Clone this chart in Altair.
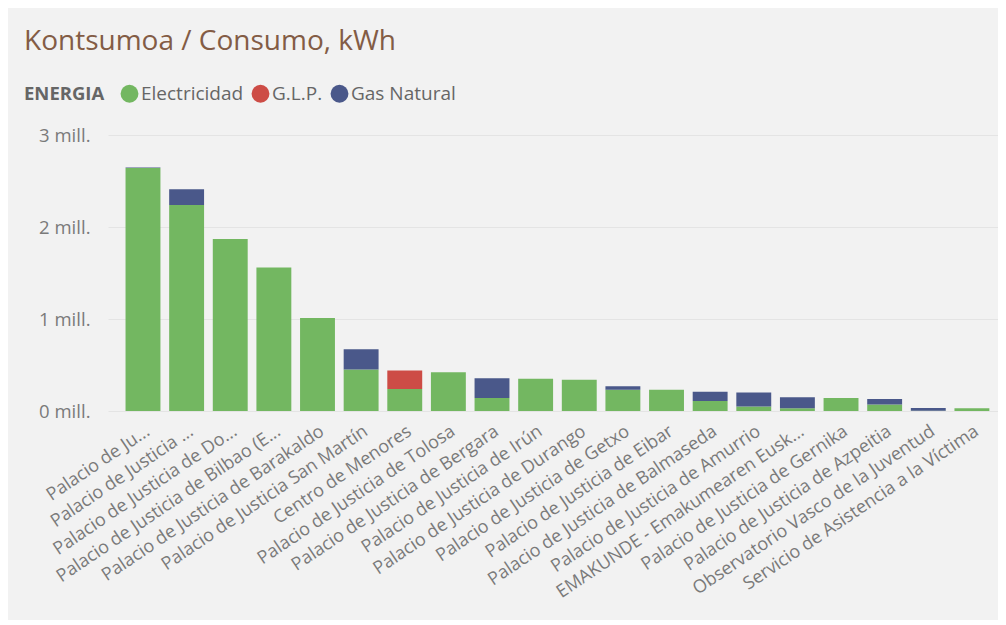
import altair as alt
import pandas as pd

categories = [
    "Palacio de Ju...",
    "Palacio de Justicia ...",
    "Palacio de Justicia de Do...",
    "Palacio de Justicia de Bilbao (E...",
    "Palacio de Justicia de Barakaldo",
    "Palacio de Justicia San Martín",
    "Centro de Menores",
    "Palacio de Justicia de Tolosa",
    "Palacio de Justicia de Bergara",
    "Palacio de Justicia de Irún",
    "Palacio de Justicia de Durango",
    "Palacio de Justicia de Getxo",
    "Palacio de Justicia de Eibar",
    "Palacio de Justicia de Balmaseda",
    "Palacio de Justicia de Amurrio",
    "EMAKUNDE - Emakumearen Eusk...",
    "Palacio de Justicia de Gernika",
    "Palacio de Justicia de Azpeitia",
    "Observatorio Vasco de la Juventud",
    "Servicio de Asistencia a la Víctima",
]

electricidad = [2640000, 2240000, 1870000, 1560000, 1010000, 450000, 240000, 420000,
                140000, 350000, 340000, 230000, 230000, 110000, 50000, 30000,
                140000, 70000, 4000, 30000]
glp = [0, 0, 0, 0, 0, 0, 200000, 0, 0, 0, 0, 0, 0, 0, 0, 0, 0, 0, 0, 0]
gas_natural = [8000, 170000, 0, 0, 0, 220000, 0, 0, 215000, 0, 0, 40000, 0, 100000,
               150000, 120000, 0, 60000, 28000, 0]

series = ["Electricidad", "G.L.P.", "Gas Natural"]
colors = ["#73B761", "#CD4C46", "#4A588A"]

rows = []
for i, c in enumerate(categories):
    for k, (name, vals) in enumerate(zip(series, [electricidad, glp, gas_natural])):
        rows.append({"Edificio": c, "ENERGIA": name, "kWh": vals[i], "ord": k})
df = pd.DataFrame(rows)

FONT = "Open Sans"

chart = (
    alt.Chart(df)
    .mark_bar()
    .encode(
        x=alt.X(
            "Edificio:N",
            sort=categories,
            title=None,
            scale=alt.Scale(paddingInner=0.2, paddingOuter=0.3, align=0.67),
            axis=alt.Axis(
                labelAngle=-34,
                labelFont=FONT,
                labelFontSize=18,
                labelColor="#7a7a7a",
                labelLimit=500,
                ticks=False,
                domain=False,
                labelPadding=11,
            ),
        ),
        y=alt.Y(
            "kWh:Q",
            stack="zero",
            title=None,
            scale=alt.Scale(domain=[0, 3000000], nice=False),
            axis=alt.Axis(
                values=[0, 1000000, 2000000, 3000000],
                labelExpr="format(datum.value / 1000000, 'd') + ' mill.'",
                labelFont=FONT,
                labelFontSize=18.5,
                labelColor="#7a7a7a",
                ticks=False,
                domain=False,
                labelPadding=18,
                gridColor="#e4e4e4",
                gridWidth=1,
            ),
        ),
        color=alt.Color(
            "ENERGIA:N",
            scale=alt.Scale(domain=series, range=colors),
            legend=alt.Legend(
                orient="none",
                legendX=-84,
                legendY=-51,
                direction="horizontal",
                titleOrient="left",
                title="ENERGIA",
                titleFont=FONT,
                titleFontSize=18.5,
                titleFontWeight="bold",
                titleColor="#666666",
                titlePadding=15,
                labelFont=FONT,
                labelFontSize=19,
                labelColor="#666666",
                labelOffset=2,
                symbolType="circle",
                symbolSize=320,
                symbolStrokeWidth=0,
                columnPadding=7,
            ),
        ),
        order=alt.Order("ord:Q", sort="ascending"),
    )
    .properties(
        width=890,
        height=276,
        title=alt.TitleParams(
            "Kontsumoa / Consumo, kWh",
            anchor="start",
            frame="group",
            dx=-84,
            dy=-24,
            font=FONT,
            fontSize=28,
            fontWeight="normal",
            color="#835C45",
        ),
        autosize=alt.AutoSizeParams(type="none"),
        padding={"left": 100, "top": 127, "right": 0, "bottom": 209},
        background="#f2f2f2",
    )
    .configure_view(stroke=None)
)

chart.save("out.html", embed_options={"renderer": "svg", "actions": False})
